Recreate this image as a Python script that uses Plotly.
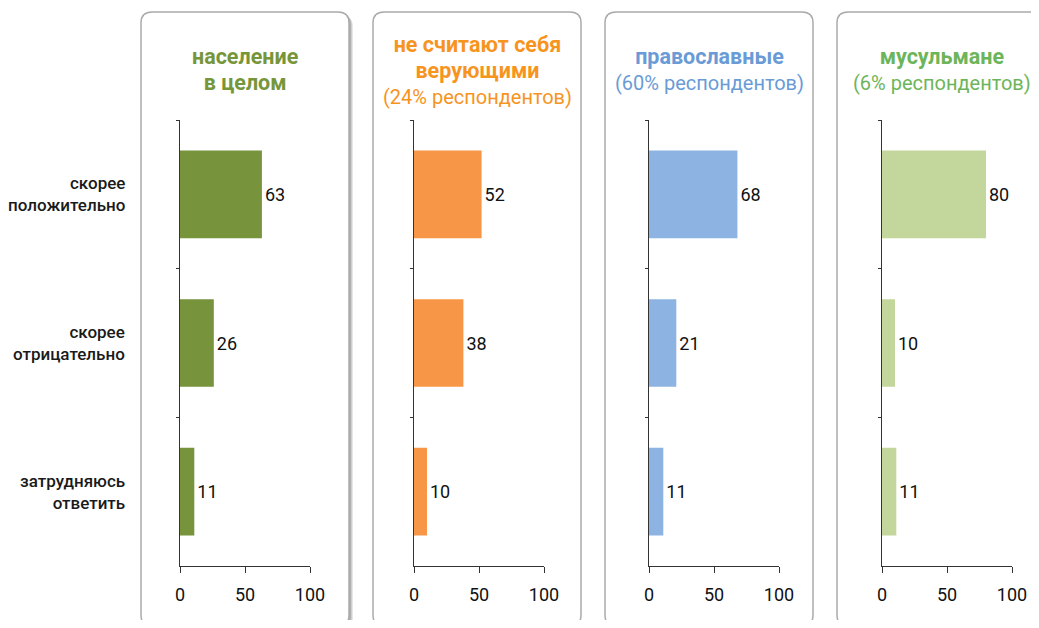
import plotly.graph_objects as go

# the page body adds an 8px margin, so the figure is drawn 16px smaller
# and every reference pixel position is shifted by that margin
W, H = 1023, 612
OFF = 8

categories = ['скорее<br>положительно', 'скорее<br>отрицательно', 'затрудняюсь<br>ответить']
values_total = [63, 26, 11]
values_nonbelievers = [52, 38, 10]
values_orthodox = [68, 21, 11]
values_muslims = [80, 10, 11]

title_bold = [
    ['население', 'в целом'],
    ['не считают себя', 'верующими'],
    ['православные'],
    ['мусульмане'],
]
title_sub = ['', '(24% респондентов)', '(60% респондентов)', '(6% респондентов)']
bar_colors = ['#77933C', '#F79646', '#8DB3E2', '#C3D69B']
title_colors = ['#77963A', '#F7941D', '#6A9BD6', '#6DB55A']
series = [values_total, values_nonbelievers, values_orthodox, values_muslims]

# pixel layout of each panel (reference coordinates)
axis_x0 = [180, 414, 649, 882]
axis_len = 130
box_x = [(141, 349), (373, 581), (605, 813), (837, 1046)]
box_y = (12, 626)
title_y = [70, 71, 70, 70]
plot_top, plot_bottom = 120, 566


def px(x):
    return (x - OFF) / W


def py(y):
    return 1 - (y - OFF) / H


def rounded_box(x0, x1, y0, y1, r=11):
    pts = [
        f'M{px(x0 + r)},{py(y0)}',
        f'L{px(x1 - r)},{py(y0)}',
        f'Q{px(x1)},{py(y0)} {px(x1)},{py(y0 + r)}',
        f'L{px(x1)},{py(y1 - r)}',
        f'Q{px(x1)},{py(y1)} {px(x1 - r)},{py(y1)}',
        f'L{px(x0 + r)},{py(y1)}',
        f'Q{px(x0)},{py(y1)} {px(x0)},{py(y1 - r)}',
        f'L{px(x0)},{py(y0 + r)}',
        f'Q{px(x0)},{py(y0)} {px(x0 + r)},{py(y0)}',
        'Z',
    ]
    return ' '.join(pts)


fig = go.Figure()
shapes = []
annotations = []

for i, vals in enumerate(series):
    n = '' if i == 0 else str(i + 1)
    fig.add_trace(go.Bar(
        x=vals, y=categories, orientation='h',
        marker=dict(color=bar_colors[i], line=dict(width=0)),
        width=0.59,
        text=[str(v) for v in vals], textposition='outside',
        textfont=dict(size=18, color='#111111'),
        cliponaxis=False,
        xaxis='x' + n, yaxis='y' + n, showlegend=False,
    ))
    fig.update_layout({
        'xaxis' + n: dict(
            domain=[px(axis_x0[i]), px(axis_x0[i] + axis_len)],
            range=[0, 100], tickvals=[0, 50, 100],
            showgrid=False, zeroline=False,
            showline=True, linecolor='#333333', linewidth=1,
            ticks='outside', ticklen=6, tickcolor='#333333',
            tickfont=dict(size=18, color='#111111'), ticklabelstandoff=6,
            anchor='y' + n, fixedrange=True, automargin=False,
        ),
        'yaxis' + n: dict(
            domain=[py(plot_bottom), py(plot_top)],
            categoryorder='array', categoryarray=categories,
            range=[2.5, -0.5],
            showgrid=False, zeroline=False,
            showline=True, linecolor='#333333', linewidth=1,
            ticks='outside', tickson='boundaries', ticklen=3, tickcolor='#333333',
            showticklabels=False,
            anchor='x' + n, fixedrange=True, automargin=False,
        ),
    })

    # panel frame (first one has a drop shadow)
    bx0, bx1 = box_x[i]
    if i == 0:
        for k, c in enumerate(['#e6e6e6', '#cfcfcf', '#b0b0b0']):
            off = 4 - k
            shapes.append(dict(type='path', xref='paper', yref='paper', layer='below',
                               path=rounded_box(bx0 + off, bx1 + off, box_y[0] + off, box_y[1] + off),
                               fillcolor=c, line=dict(width=0)))
    shapes.append(dict(type='path', xref='paper', yref='paper', layer='below',
                       path=rounded_box(bx0, bx1, box_y[0], box_y[1]),
                       fillcolor='white', line=dict(color='#ababab', width=1.5)))

    lines = [f'<span style="font-size:21.5px"><b>{t}</b></span>' for t in title_bold[i]]
    if title_sub[i]:
        lines.append(title_sub[i])
    annotations.append(dict(
        text='<br>'.join(lines), xref='paper', yref='paper',
        x=px((bx0 + bx1) / 2), y=py(title_y[i]),
        xanchor='center', yanchor='middle', showarrow=False,
        font=dict(size=20, color=title_colors[i]), align='center',
    ))

for cat in categories:
    annotations.append(dict(
        text=cat, xref='paper', yref='y', x=px(127), y=cat,
        xanchor='right', yanchor='middle', showarrow=False, align='right',
        font=dict(size=17, color='#1a1a1a', weight=500),
    ))

fig.update_layout(
    width=W, height=H,
    margin=dict(l=0, r=0, t=0, b=0, pad=0, autoexpand=False),
    paper_bgcolor='white', plot_bgcolor='rgba(0,0,0,0)',
    font=dict(family='Roboto, Noto Sans, sans-serif'),
    shapes=shapes, annotations=annotations,
    bargap=0.4, showlegend=False,
)

fig.write_html('out.html')
